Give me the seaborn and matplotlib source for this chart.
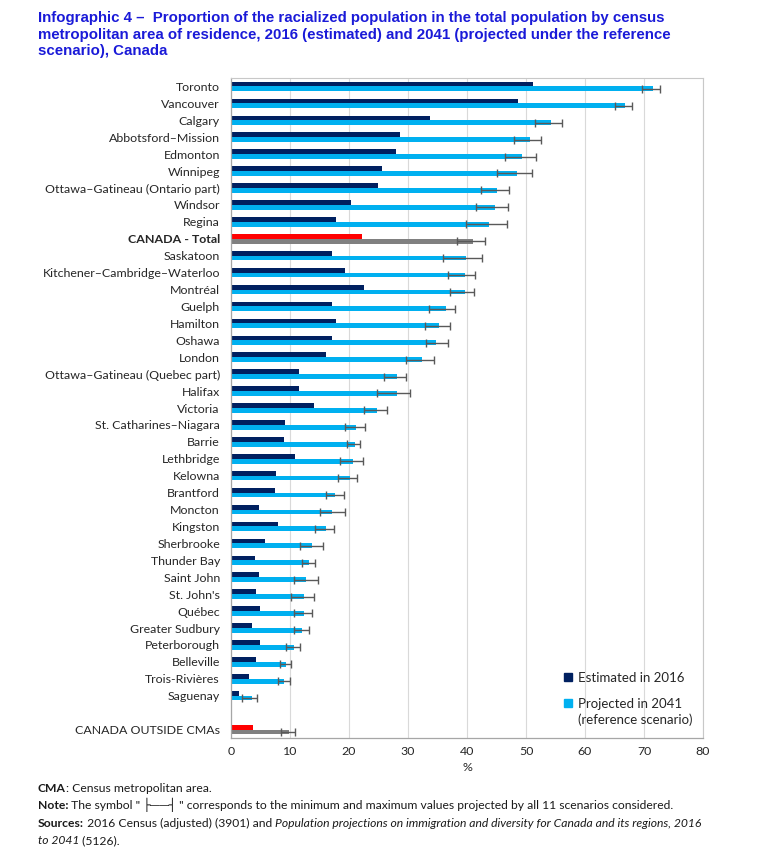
import matplotlib
matplotlib.use("Agg")
import matplotlib.pyplot as plt
import seaborn as sns
import pandas as pd
import numpy as np
from matplotlib.lines import Line2D

# ---------------- data ----------------
cmas = ["Toronto", "Vancouver", "Calgary", "Abbotsford–Mission", "Edmonton", "Winnipeg",
        "Ottawa–Gatineau (Ontario part)", "Windsor", "Regina", "CANADA - Total", "Saskatoon",
        "Kitchener–Cambridge–Waterloo", "Montréal", "Guelph", "Hamilton", "Oshawa", "London",
        "Ottawa–Gatineau (Quebec part)", "Halifax", "Victoria", "St. Catharines–Niagara",
        "Barrie", "Lethbridge", "Kelowna", "Brantford", "Moncton", "Kingston", "Sherbrooke",
        "Thunder Bay", "Saint John", "St. John's", "Québec", "Greater Sudbury", "Peterborough",
        "Belleville", "Trois-Rivières", "Saguenay", "CANADA OUTSIDE CMAs"]
est_2016 = [51.2, 48.7, 33.7, 28.7, 27.9, 25.6, 24.9, 20.3, 17.8, 22.2, 17.1, 19.3, 22.5,
            17.1, 17.8, 17.2, 16.1, 11.5, 11.5, 14.1, 9.2, 9.0, 10.8, 7.7, 7.5, 4.8, 7.9,
            5.7, 4.0, 4.8, 4.3, 4.9, 3.6, 4.9, 4.2, 3.0, 1.3, 3.7]
proj_2041 = [71.5, 66.8, 54.2, 50.7, 49.4, 48.4, 45.1, 44.7, 43.8, 41.1, 39.8, 39.6, 39.6,
             36.4, 35.2, 34.7, 32.3, 28.1, 28.1, 24.8, 21.2, 21.0, 20.7, 20.1, 17.7, 17.2,
             16.1, 13.7, 13.2, 12.7, 12.4, 12.4, 12.1, 10.6, 9.4, 9.0, 3.6, 9.8]
min_2041 = [69.7, 65.0, 51.6, 48.0, 46.5, 45.1, 42.3, 41.5, 39.8, 38.3, 36.0, 36.8, 37.2,
            33.6, 32.8, 33.1, 29.7, 26.0, 24.8, 22.5, 19.3, 19.6, 18.5, 18.2, 16.1, 15.1,
            14.3, 11.7, 12.0, 10.6, 10.1, 10.6, 10.7, 9.3, 8.3, 7.9, 1.8, 8.5]
max_2041 = [72.7, 68.0, 56.1, 52.5, 51.7, 51.0, 47.1, 46.9, 46.7, 43.0, 42.6, 41.4, 41.2,
            38.0, 37.2, 36.7, 34.4, 29.7, 30.4, 26.4, 22.7, 21.9, 22.3, 21.4, 19.1, 19.3,
            17.4, 15.6, 14.3, 14.7, 14.0, 13.7, 13.3, 11.7, 10.1, 10.0, 4.4, 10.9]
series = ["Estimated in 2016", "Projected in 2041"]
series_note = "(reference scenario)"
canada_rows = ["CANADA - Total", "CANADA OUTSIDE CMAs"]
xticks = [0, 10, 20, 30, 40, 50, 60, 70, 80]

order = cmas[:-1] + [" "] + cmas[-1:]

NAVY = "#002060"
LBLUE = "#00B0F0"
RED = "#FF0000"
GREY = "#808080"
ERR = "#595959"
TITLE_BLUE = "#1a1ad8"
TXT = "#262626"

df = pd.DataFrame({
    "cma": cmas * 2,
    "series": [series[0]] * len(cmas) + [series[1]] * len(cmas),
    "value": est_2016 + proj_2041,
})

sns.set_style("white")
LABEL_FONT = ["Lato", "DejaVu Sans"]
TITLE_FONT = ["Liberation Sans", "DejaVu Sans"]
plt.rcParams["font.family"] = LABEL_FONT

fig = plt.figure(figsize=(7.57, 8.63), dpi=100)
ax = fig.add_axes([231 / 757, 1 - 738 / 863, (703 - 231) / 757, (738 - 78) / 863])

BAR_W = 0.56
sns.barplot(data=df, y="cma", x="value", hue="series", order=order, hue_order=series,
            palette=[NAVY, LBLUE], width=BAR_W, orient="h", saturation=1, linewidth=0,
            errorbar=None, legend=False, ax=ax, zorder=2)

# recolor CANADA rows
canada_idx = [order.index(c) for c in canada_rows]
for p in ax.patches:
    yc = p.get_y() + p.get_height() / 2
    ci = int(round(yc))
    if ci in canada_idx:
        p.set_facecolor(RED if yc < ci else GREY)

# min / max error bars on the 2041 bars
ypos = np.array([order.index(c) for c in cmas]) + BAR_W / 4
pv = np.array(proj_2041)
xerr = np.vstack([pv - np.array(min_2041), np.array(max_2041) - pv])
ax.errorbar(pv, ypos, xerr=xerr, fmt="none", ecolor=ERR, elinewidth=1.0,
            capsize=2.8, capthick=1.0, zorder=3)

ax.set_xlim(0, 80)
ax.set_ylim(len(order) - 0.5, -0.5)
ax.set_xticks(xticks)
ax.set_xticklabels([str(v) for v in xticks], fontsize=8.9, color=TXT)
ax.set_xlabel("%", fontsize=8.9, color=TXT, labelpad=3)
ax.set_ylabel("")
ax.tick_params(axis="x", length=0, pad=6)
ax.tick_params(axis="y", which="major", length=0, pad=8, labelsize=8.9, labelcolor=TXT)
ax.set_yticks(np.arange(len(order) + 1) - 0.5, minor=True)
ax.tick_params(axis="y", which="minor", length=4, color="#a6a6a6", width=0.8, direction="out")
for lbl in ax.get_yticklabels():
    if lbl.get_text() == "CANADA - Total":
        lbl.set_fontweight("bold")

ax.grid(axis="x", color="#d9d9d9", linewidth=0.8, zorder=0)
ax.set_axisbelow(True)
for side in ["left", "bottom"]:
    ax.spines[side].set_color("#a6a6a6")
    ax.spines[side].set_linewidth(0.9)
for side in ["top", "right"]:
    ax.spines[side].set_visible(True)
    ax.spines[side].set_color("#c8c8c8")
    ax.spines[side].set_linewidth(0.8)

handles = [Line2D([], [], marker="s", linestyle="None", markersize=6,
                  markerfacecolor=c, markeredgecolor=c) for c in (NAVY, LBLUE)]
leg = ax.legend(handles, series, loc="upper left", bbox_to_anchor=(0.694, 0.108),
                frameon=False, fontsize=9.5, handlelength=0.7, handletextpad=0.35,
                labelspacing=1.05, borderaxespad=0)
for t in leg.get_texts():
    t.set_color(TXT)

renderer = fig.canvas.get_renderer()
fig.canvas.draw()
bb = leg.get_texts()[1].get_window_extent(renderer)
inv = ax.transAxes.inverted()
x0, y0 = inv.transform((bb.x0, bb.y0 + 4))
ax.text(x0, y0 - 18 / 660, series_note, transform=ax.transAxes, fontsize=9.5,
        color=TXT, va="baseline", ha="left")

# ---------------- title ----------------
title_lines = ["Infographic 4 –  Proportion of the racialized population in the total population by census",
               "metropolitan area of residence, 2016 (estimated) and 2041 (projected under the reference",
               "scenario), Canada"]
for i, line in enumerate(title_lines):
    fig.text(38 / 757, 1 - (22 + i * 16.5) / 863, line, family=TITLE_FONT,
             fontsize=10.8, fontweight="bold", color=TITLE_BLUE, va="baseline", ha="left")

# ---------------- footer ----------------


def rich_line(x_px, y_px, parts, size=8.7):
    cur = x_px / 757
    for txt, kw in parts:
        t = fig.text(cur, 1 - y_px / 863, txt, fontsize=size, family=LABEL_FONT,
                     color="#1a1a1a", va="baseline", ha="left", **kw)
        cur += t.get_window_extent(renderer).width / fig.bbox.width


rich_line(38, 792, [("CMA", {"fontweight": "bold"}), (": Census metropolitan area.", {})])
rich_line(38, 809, [("Note:", {"fontweight": "bold"}),
                    (" The symbol \" ├──┤ \" corresponds to the minimum and maximum values projected by all 11 scenarios considered.", {})])
rich_line(38, 827, [("Sources:", {"fontweight": "bold"}),
                    (" 2016 Census (adjusted) (3901) and ", {}),
                    ("Population projections on immigration and diversity for Canada and its regions, 2016", {"style": "italic"})])
rich_line(38, 844, [("to 2041", {"style": "italic"}), (" (5126).", {})])

fig.savefig("out.png", dpi=100)
